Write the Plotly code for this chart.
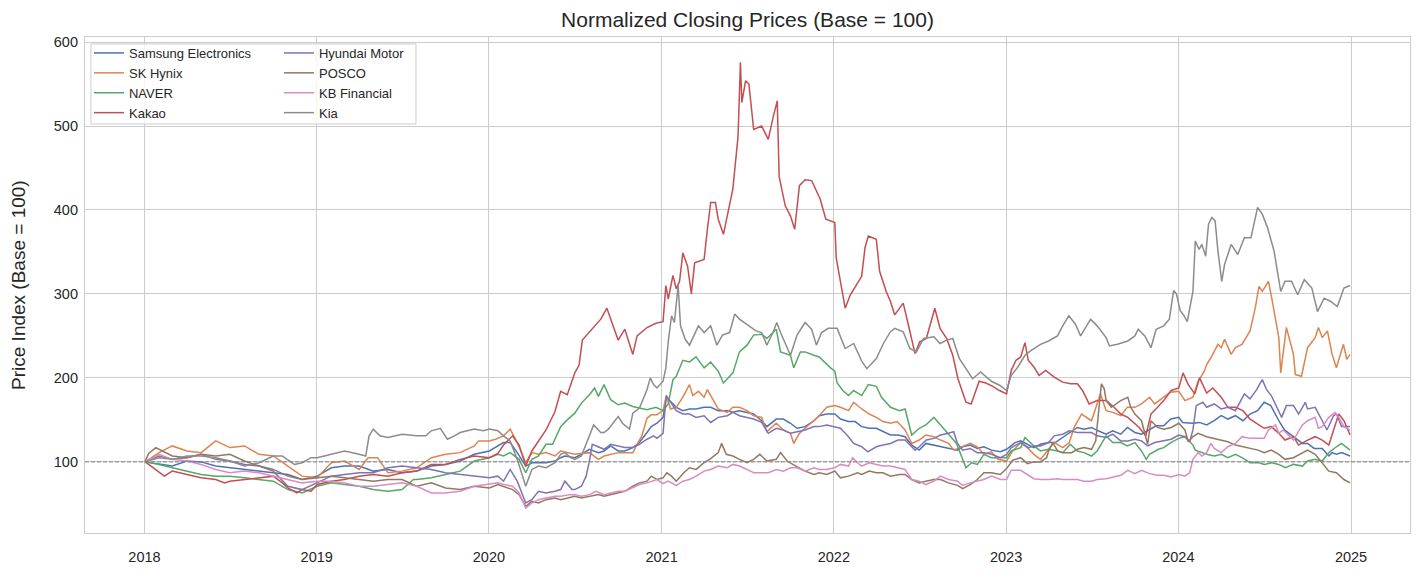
import plotly.graph_objects as go

TITLE = "Normalized Closing Prices (Base = 100)"
Y_TITLE = "Price Index (Base = 100)"
BASE = 100
YEAR_TICKS = ["2018-01-01", "2019-01-01", "2020-01-01", "2021-01-01", "2022-01-01", "2023-01-01", "2024-01-01", "2025-01-01"]
YEAR_LABELS = ["2018", "2019", "2020", "2021", "2022", "2023", "2024", "2025"]

samsung = [
    ("2018-01-02", 100), ("2018-02-01", 97), ("2018-03-01", 95), ("2018-04-01", 101), ("2018-05-01", 100), ("2018-06-01", 95),
    ("2018-07-01", 93), ("2018-08-01", 91), ("2018-09-01", 89), ("2018-10-01", 87), ("2018-11-01", 85), ("2018-12-01", 79),
    ("2019-01-02", 83), ("2019-02-01", 93), ("2019-03-01", 95), ("2019-04-01", 95), ("2019-05-01", 89), ("2019-06-01", 91),
    ("2019-07-01", 87), ("2019-08-01", 89), ("2019-09-01", 95), ("2019-10-01", 97), ("2019-11-01", 101), ("2019-12-01", 109),
    ("2020-01-02", 113), ("2020-01-20", 119), ("2020-02-01", 123), ("2020-02-15", 123), ("2020-03-01", 111), ("2020-03-19", 95),
    ("2020-04-01", 99), ("2020-05-01", 99), ("2020-05-20", 101), ("2020-06-01", 105), ("2020-06-10", 107), ("2020-07-01", 105),
    ("2020-07-15", 109), ("2020-08-01", 115), ("2020-08-20", 111), ("2020-09-01", 113), ("2020-09-15", 119), ("2020-10-01", 113),
    ("2020-10-15", 113), ("2020-11-01", 117), ("2020-11-15", 123), ("2020-12-01", 135), ("2020-12-10", 142), ("2020-12-22", 146),
    ("2021-01-04", 153), ("2021-01-11", 177), ("2021-01-18", 173), ("2021-02-01", 165), ("2021-02-15", 161), ("2021-03-01", 163),
    ("2021-03-15", 163), ("2021-04-01", 165), ("2021-04-15", 165), ("2021-05-01", 161), ("2021-05-20", 161), ("2021-06-01", 159),
    ("2021-06-15", 161), ("2021-07-01", 159), ("2021-07-15", 157), ("2021-08-01", 149), ("2021-08-12", 142), ("2021-09-01", 151),
    ("2021-09-16", 151), ("2021-10-01", 146), ("2021-10-15", 140), ("2021-11-01", 142), ("2021-11-20", 149), ("2021-12-01", 155),
    ("2021-12-17", 157), ("2022-01-03", 157), ("2022-01-15", 151), ("2022-02-01", 148), ("2022-02-15", 148), ("2022-03-01", 142),
    ("2022-03-17", 140), ("2022-04-01", 140), ("2022-04-15", 136), ("2022-05-01", 132), ("2022-05-17", 132), ("2022-06-01", 130),
    ("2022-06-15", 120), ("2022-07-01", 114), ("2022-07-15", 122), ("2022-08-01", 120), ("2022-08-15", 118), ("2022-09-01", 116),
    ("2022-09-20", 114), ("2022-10-01", 118), ("2022-10-17", 120), ("2022-11-01", 116), ("2022-11-15", 118), ("2022-12-01", 114),
    ("2022-12-20", 112), ("2023-01-02", 115), ("2023-01-20", 123), ("2023-02-01", 125), ("2023-02-15", 121), ("2023-03-01", 117),
    ("2023-03-15", 121), ("2023-04-01", 123), ("2023-04-15", 123), ("2023-05-01", 129), ("2023-05-17", 135), ("2023-06-01", 141),
    ("2023-06-15", 139), ("2023-07-01", 141), ("2023-07-15", 137), ("2023-08-01", 133), ("2023-08-15", 137), ("2023-09-01", 133),
    ("2023-09-15", 141), ("2023-10-01", 135), ("2023-10-15", 133), ("2023-11-01", 139), ("2023-11-15", 143), ("2023-12-01", 143),
    ("2023-12-16", 151), ("2024-01-02", 153), ("2024-01-10", 147), ("2024-02-01", 146), ("2024-02-15", 147), ("2024-03-01", 144),
    ("2024-03-17", 149), ("2024-04-01", 155), ("2024-04-15", 151), ("2024-05-01", 155), ("2024-05-17", 149), ("2024-06-01", 157),
    ("2024-06-17", 161), ("2024-07-01", 171), ("2024-07-15", 167), ("2024-08-01", 149), ("2024-08-13", 138), ("2024-09-01", 130),
    ("2024-09-20", 122), ("2024-10-01", 122), ("2024-10-15", 116), ("2024-11-01", 116), ("2024-11-15", 107), ("2024-11-22", 111),
    ("2024-12-01", 109), ("2024-12-12", 111), ("2024-12-30", 107),
]

sk_hynix = [
    ("2018-01-02", 100), ("2018-02-01", 111), ("2018-03-01", 119), ("2018-04-01", 113), ("2018-05-01", 111), ("2018-06-01", 125),
    ("2018-07-01", 117), ("2018-08-01", 119), ("2018-09-01", 109), ("2018-10-01", 107), ("2018-11-01", 95), ("2018-12-01", 83),
    ("2019-01-02", 81), ("2019-02-01", 99), ("2019-03-01", 101), ("2019-04-01", 91), ("2019-04-20", 105), ("2019-05-10", 105),
    ("2019-06-01", 87), ("2019-07-01", 89), ("2019-08-01", 93), ("2019-09-01", 105), ("2019-10-01", 109), ("2019-11-01", 111),
    ("2019-12-01", 119), ("2019-12-10", 125), ("2020-01-02", 125), ("2020-01-15", 127), ("2020-02-01", 131), ("2020-02-15", 139),
    ("2020-03-01", 123), ("2020-03-19", 99), ("2020-04-01", 111), ("2020-04-15", 109), ("2020-05-01", 111), ("2020-05-20", 107),
    ("2020-06-01", 113), ("2020-06-20", 111), ("2020-07-01", 109), ("2020-08-01", 111), ("2020-08-20", 103), ("2020-09-01", 107),
    ("2020-10-01", 111), ("2020-10-15", 111), ("2020-11-01", 111), ("2020-11-10", 121), ("2020-11-20", 131), ("2020-12-01", 152),
    ("2020-12-10", 156), ("2020-12-22", 156), ("2021-01-04", 161), ("2021-01-11", 179), ("2021-01-20", 163), ("2021-02-01", 165),
    ("2021-02-15", 177), ("2021-03-01", 192), ("2021-03-08", 179), ("2021-03-20", 184), ("2021-04-01", 177), ("2021-04-08", 186),
    ("2021-04-20", 173), ("2021-05-01", 163), ("2021-05-20", 159), ("2021-06-01", 165), ("2021-06-15", 165), ("2021-07-01", 161),
    ("2021-07-15", 155), ("2021-08-01", 153), ("2021-08-12", 136), ("2021-09-01", 146), ("2021-09-16", 138), ("2021-10-01", 134),
    ("2021-10-08", 122), ("2021-10-20", 134), ("2021-11-01", 140), ("2021-11-20", 149), ("2021-12-01", 155), ("2021-12-17", 165),
    ("2022-01-03", 167), ("2022-01-15", 165), ("2022-02-01", 161), ("2022-02-12", 171), ("2022-03-01", 163), ("2022-03-17", 157),
    ("2022-04-01", 153), ("2022-04-15", 148), ("2022-05-01", 146), ("2022-05-15", 148), ("2022-06-01", 138), ("2022-06-15", 122),
    ("2022-07-01", 126), ("2022-07-15", 132), ("2022-08-01", 130), ("2022-08-15", 126), ("2022-09-01", 122), ("2022-09-12", 114),
    ("2022-10-01", 118), ("2022-10-17", 122), ("2022-11-01", 118), ("2022-11-15", 109), ("2022-12-01", 112), ("2022-12-15", 103),
    ("2023-01-02", 101), ("2023-01-15", 113), ("2023-02-01", 123), ("2023-02-15", 117), ("2023-03-01", 109), ("2023-03-15", 103),
    ("2023-04-01", 115), ("2023-04-13", 123), ("2023-05-01", 117), ("2023-05-15", 123), ("2023-05-25", 141), ("2023-06-10", 157),
    ("2023-07-01", 149), ("2023-07-13", 169), ("2023-07-20", 181), ("2023-08-01", 161), ("2023-08-15", 159), ("2023-09-01", 155),
    ("2023-09-15", 165), ("2023-10-01", 165), ("2023-10-15", 169), ("2023-11-01", 177), ("2023-11-12", 169), ("2023-12-01", 177),
    ("2023-12-15", 183), ("2024-01-02", 184), ("2024-01-15", 173), ("2024-02-01", 177), ("2024-02-12", 196), ("2024-02-25", 208),
    ("2024-03-01", 216), ("2024-03-10", 224), ("2024-03-25", 240), ("2024-04-01", 236), ("2024-04-08", 246), ("2024-04-22", 228),
    ("2024-05-01", 236), ("2024-05-15", 240), ("2024-06-01", 256), ("2024-06-12", 283), ("2024-06-20", 309), ("2024-06-27", 303),
    ("2024-07-10", 315), ("2024-07-17", 295), ("2024-07-25", 271), ("2024-08-01", 248), ("2024-08-05", 206), ("2024-08-17", 260),
    ("2024-09-01", 228), ("2024-09-05", 204), ("2024-09-18", 202), ("2024-10-01", 236), ("2024-10-17", 248), ("2024-10-24", 260),
    ("2024-11-01", 248), ("2024-11-12", 256), ("2024-11-22", 228), ("2024-12-01", 212), ("2024-12-16", 240), ("2024-12-23", 222),
    ("2024-12-30", 228),
]

naver = [
    ("2018-01-02", 100), ("2018-02-01", 97), ("2018-03-01", 93), ("2018-04-01", 89), ("2018-05-01", 85), ("2018-06-01", 83),
    ("2018-07-01", 83), ("2018-08-01", 81), ("2018-09-01", 79), ("2018-10-01", 77), ("2018-11-01", 67), ("2018-12-01", 63),
    ("2019-01-02", 71), ("2019-02-01", 75), ("2019-03-01", 73), ("2019-04-01", 71), ("2019-05-01", 67), ("2019-06-01", 65),
    ("2019-07-01", 67), ("2019-07-25", 79), ("2019-08-01", 79), ("2019-09-01", 81), ("2019-10-01", 85), ("2019-11-01", 89),
    ("2019-12-01", 101), ("2020-01-02", 105), ("2020-01-20", 109), ("2020-02-01", 107), ("2020-02-15", 111), ("2020-03-05", 103),
    ("2020-03-19", 87), ("2020-04-01", 103), ("2020-04-15", 107), ("2020-05-01", 121), ("2020-05-15", 121), ("2020-06-01", 142),
    ("2020-06-15", 150), ("2020-07-01", 158), ("2020-07-15", 170), ("2020-08-01", 180), ("2020-08-12", 188), ("2020-08-20", 178),
    ("2020-09-01", 192), ("2020-09-15", 174), ("2020-10-01", 168), ("2020-10-15", 170), ("2020-11-01", 166), ("2020-11-15", 164),
    ("2020-12-01", 162), ("2020-12-20", 165), ("2021-01-04", 161), ("2021-01-15", 169), ("2021-01-25", 198), ("2021-02-01", 202),
    ("2021-02-15", 221), ("2021-03-01", 219), ("2021-03-15", 225), ("2021-04-01", 212), ("2021-04-15", 219), ("2021-05-01", 208),
    ("2021-05-12", 194), ("2021-06-01", 206), ("2021-06-15", 231), ("2021-07-01", 239), ("2021-07-15", 251), ("2021-08-01", 252),
    ("2021-08-12", 247), ("2021-09-01", 258), ("2021-09-10", 231), ("2021-10-01", 227), ("2021-10-08", 212), ("2021-10-22", 231),
    ("2021-11-01", 231), ("2021-11-20", 227), ("2021-12-01", 225), ("2021-12-25", 212), ("2022-01-03", 208), ("2022-01-08", 194),
    ("2022-01-20", 185), ("2022-02-01", 179), ("2022-02-12", 185), ("2022-03-01", 179), ("2022-03-15", 192), ("2022-04-01", 190),
    ("2022-04-12", 177), ("2022-05-01", 165), ("2022-05-20", 161), ("2022-06-01", 163), ("2022-06-15", 132), ("2022-07-01", 140),
    ("2022-07-15", 144), ("2022-08-01", 153), ("2022-08-12", 146), ("2022-09-01", 134), ("2022-09-18", 122), ("2022-10-08", 93),
    ("2022-10-20", 99), ("2022-11-01", 97), ("2022-11-15", 109), ("2022-12-01", 105), ("2022-12-20", 105), ("2023-01-02", 105),
    ("2023-01-12", 113), ("2023-02-01", 117), ("2023-02-10", 129), ("2023-03-01", 119), ("2023-03-15", 113), ("2023-04-01", 115),
    ("2023-04-20", 113), ("2023-05-01", 111), ("2023-05-17", 121), ("2023-06-01", 113), ("2023-06-15", 111), ("2023-07-01", 107),
    ("2023-07-13", 113), ("2023-08-01", 131), ("2023-08-15", 123), ("2023-09-01", 123), ("2023-09-15", 119), ("2023-10-01", 123),
    ("2023-10-15", 113), ("2023-10-25", 103), ("2023-11-01", 109), ("2023-11-20", 115), ("2023-12-01", 117), ("2023-12-16", 123),
    ("2024-01-02", 128), ("2024-01-15", 130), ("2024-02-01", 120), ("2024-02-06", 114), ("2024-03-01", 109), ("2024-03-17", 107),
    ("2024-04-01", 109), ("2024-04-15", 105), ("2024-05-01", 109), ("2024-05-15", 105), ("2024-06-01", 99), ("2024-06-20", 99),
    ("2024-07-01", 97), ("2024-07-17", 99), ("2024-08-01", 97), ("2024-08-15", 93), ("2024-09-01", 97), ("2024-09-20", 95),
    ("2024-10-01", 101), ("2024-10-17", 103), ("2024-11-01", 101), ("2024-11-15", 111), ("2024-12-01", 118), ("2024-12-12", 122),
    ("2024-12-30", 114),
]

kakao = [
    ("2018-01-02", 100), ("2018-01-15", 95), ("2018-02-12", 83), ("2018-03-01", 89), ("2018-04-01", 85), ("2018-05-01", 81),
    ("2018-06-01", 79), ("2018-06-20", 75), ("2018-07-01", 77), ("2018-08-01", 79), ("2018-09-01", 81), ("2018-10-01", 83),
    ("2018-10-20", 75), ("2018-11-01", 69), ("2018-11-20", 63), ("2018-12-01", 67), ("2018-12-20", 65), ("2019-01-02", 73),
    ("2019-02-01", 77), ("2019-03-01", 79), ("2019-04-01", 83), ("2019-05-01", 85), ("2019-06-01", 83), ("2019-07-01", 87),
    ("2019-08-01", 89), ("2019-09-01", 97), ("2019-10-01", 97), ("2019-11-01", 103), ("2019-12-01", 107), ("2020-01-02", 105),
    ("2020-01-20", 110), ("2020-02-01", 120), ("2020-02-20", 131), ("2020-03-05", 120), ("2020-03-19", 95), ("2020-04-01", 113),
    ("2020-05-01", 138), ("2020-05-20", 160), ("2020-06-01", 184), ("2020-06-15", 180), ("2020-07-01", 206), ("2020-07-10", 215),
    ("2020-07-17", 245), ("2020-08-01", 255), ("2020-08-10", 260), ("2020-08-25", 270), ("2020-09-07", 283), ("2020-09-20", 262),
    ("2020-10-01", 245), ("2020-10-15", 258), ("2020-11-01", 228), ("2020-11-10", 250), ("2020-12-01", 260), ("2020-12-20", 265),
    ("2021-01-04", 267), ("2021-01-10", 310), ("2021-01-15", 294), ("2021-01-25", 322), ("2021-02-01", 306), ("2021-02-08", 315),
    ("2021-02-15", 349), ("2021-02-25", 333), ("2021-03-05", 300), ("2021-03-12", 337), ("2021-04-01", 341), ("2021-04-08", 377),
    ("2021-04-15", 409), ("2021-04-25", 409), ("2021-05-01", 389), ("2021-05-12", 371), ("2021-05-22", 397), ("2021-06-01", 425),
    ("2021-06-12", 488), ("2021-06-17", 576), ("2021-06-20", 528), ("2021-06-28", 554), ("2021-07-05", 550), ("2021-07-15", 496),
    ("2021-08-01", 500), ("2021-08-15", 484), ("2021-08-26", 512), ("2021-09-03", 530), ("2021-09-07", 440), ("2021-09-20", 405),
    ("2021-10-01", 393), ("2021-10-10", 377), ("2021-10-20", 429), ("2021-11-01", 436), ("2021-11-15", 435), ("2021-12-03", 413),
    ("2021-12-15", 389), ("2022-01-03", 385), ("2022-01-06", 343), ("2022-01-15", 315), ("2022-01-25", 283), ("2022-02-05", 299),
    ("2022-02-19", 311), ("2022-03-01", 321), ("2022-03-08", 355), ("2022-03-15", 369), ("2022-04-01", 365), ("2022-04-08", 327),
    ("2022-04-22", 303), ("2022-05-01", 291), ("2022-05-10", 275), ("2022-05-28", 289), ("2022-06-08", 263), ("2022-06-22", 229),
    ("2022-07-02", 243), ("2022-07-16", 247), ("2022-08-03", 283), ("2022-08-14", 259), ("2022-08-28", 247), ("2022-09-10", 227),
    ("2022-09-21", 199), ("2022-10-08", 171), ("2022-10-19", 169), ("2022-11-05", 196), ("2022-11-19", 194), ("2022-12-04", 190),
    ("2022-12-18", 185), ("2023-01-02", 181), ("2023-01-12", 209), ("2023-01-22", 221), ("2023-02-01", 225), ("2023-02-10", 242),
    ("2023-02-17", 221), ("2023-03-01", 213), ("2023-03-12", 203), ("2023-03-26", 209), ("2023-04-13", 201), ("2023-05-01", 195),
    ("2023-05-18", 193), ("2023-06-01", 193), ("2023-06-12", 185), ("2023-06-26", 169), ("2023-07-13", 173), ("2023-08-01", 173),
    ("2023-08-18", 165), ("2023-09-01", 157), ("2023-09-16", 153), ("2023-10-01", 145), ("2023-10-10", 141), ("2023-10-24", 131),
    ("2023-11-04", 157), ("2023-11-18", 165), ("2023-12-01", 173), ("2023-12-17", 185), ("2024-01-02", 188), ("2024-01-11", 206),
    ("2024-01-22", 192), ("2024-02-05", 181), ("2024-02-15", 200), ("2024-03-01", 182), ("2024-03-14", 188), ("2024-04-01", 177),
    ("2024-04-15", 165), ("2024-05-01", 165), ("2024-05-17", 161), ("2024-06-01", 151), ("2024-06-18", 145), ("2024-07-01", 140),
    ("2024-07-16", 142), ("2024-08-01", 134), ("2024-08-14", 126), ("2024-09-01", 130), ("2024-09-12", 120), ("2024-10-01", 126),
    ("2024-10-17", 130), ("2024-11-01", 126), ("2024-11-15", 120), ("2024-11-25", 138), ("2024-12-06", 157), ("2024-12-17", 149),
    ("2024-12-30", 132),
]

hyundai = [
    ("2018-01-02", 100), ("2018-02-01", 107), ("2018-03-01", 103), ("2018-04-01", 105), ("2018-05-01", 109), ("2018-06-01", 103),
    ("2018-07-01", 101), ("2018-08-01", 97), ("2018-09-01", 95), ("2018-10-01", 89), ("2018-10-25", 75), ("2018-11-01", 71),
    ("2018-12-01", 67), ("2019-01-02", 75), ("2019-02-01", 83), ("2019-03-01", 85), ("2019-04-01", 87), ("2019-05-01", 87),
    ("2019-06-01", 93), ("2019-07-01", 95), ("2019-08-01", 93), ("2019-09-01", 91), ("2019-10-01", 87), ("2019-11-01", 85),
    ("2019-12-01", 83), ("2020-01-02", 81), ("2020-01-20", 83), ("2020-02-01", 77), ("2020-02-15", 91), ("2020-03-01", 77),
    ("2020-03-19", 51), ("2020-04-01", 55), ("2020-04-15", 65), ("2020-05-01", 63), ("2020-05-20", 65), ("2020-06-01", 67),
    ("2020-06-10", 77), ("2020-06-25", 67), ("2020-07-01", 67), ("2020-07-15", 71), ("2020-07-25", 83), ("2020-08-01", 101),
    ("2020-08-07", 121), ("2020-09-01", 115), ("2020-09-15", 121), ("2020-10-01", 119), ("2020-10-15", 117), ("2020-11-01", 117),
    ("2020-11-15", 121), ("2020-12-01", 127), ("2020-12-15", 131), ("2020-12-22", 128), ("2021-01-04", 134), ("2021-01-08", 161),
    ("2021-01-11", 179), ("2021-01-18", 173), ("2021-02-01", 161), ("2021-02-15", 157), ("2021-03-01", 157), ("2021-03-15", 153),
    ("2021-04-01", 155), ("2021-04-15", 147), ("2021-05-01", 153), ("2021-05-20", 155), ("2021-06-01", 159), ("2021-06-15", 155),
    ("2021-07-01", 153), ("2021-07-15", 151), ("2021-08-01", 147), ("2021-08-15", 134), ("2021-09-01", 140), ("2021-09-16", 138),
    ("2021-10-01", 134), ("2021-10-15", 136), ("2021-11-01", 138), ("2021-11-20", 142), ("2021-12-01", 142), ("2021-12-17", 144),
    ("2022-01-03", 142), ("2022-01-15", 140), ("2022-01-25", 134), ("2022-02-01", 130), ("2022-02-12", 122), ("2022-03-01", 118),
    ("2022-03-14", 112), ("2022-04-01", 118), ("2022-04-15", 120), ("2022-05-01", 122), ("2022-05-17", 126), ("2022-06-01", 126),
    ("2022-06-15", 118), ("2022-06-22", 114), ("2022-07-01", 118), ("2022-07-16", 126), ("2022-08-01", 128), ("2022-08-15", 132),
    ("2022-09-01", 134), ("2022-09-12", 136), ("2022-09-20", 122), ("2022-10-01", 114), ("2022-10-17", 116), ("2022-11-01", 111),
    ("2022-11-15", 111), ("2022-12-01", 109), ("2022-12-20", 105), ("2023-01-02", 109), ("2023-01-12", 117), ("2023-02-01", 123),
    ("2023-02-17", 117), ("2023-03-01", 119), ("2023-03-15", 119), ("2023-04-01", 123), ("2023-04-13", 131), ("2023-05-01", 133),
    ("2023-05-15", 137), ("2023-06-01", 135), ("2023-06-15", 135), ("2023-07-01", 135), ("2023-07-13", 131), ("2023-08-01", 129),
    ("2023-08-15", 133), ("2023-09-01", 125), ("2023-09-16", 125), ("2023-10-01", 127), ("2023-10-15", 125), ("2023-10-28", 119),
    ("2023-11-12", 123), ("2023-12-01", 125), ("2023-12-17", 127), ("2024-01-02", 132), ("2024-01-15", 130), ("2024-01-25", 124),
    ("2024-02-01", 138), ("2024-02-08", 167), ("2024-02-22", 171), ("2024-03-01", 165), ("2024-03-17", 169), ("2024-04-01", 163),
    ("2024-04-15", 165), ("2024-05-01", 161), ("2024-05-20", 181), ("2024-06-01", 175), ("2024-06-15", 186), ("2024-06-27", 198),
    ("2024-07-06", 186), ("2024-07-16", 179), ("2024-08-01", 161), ("2024-08-07", 153), ("2024-08-17", 167), ("2024-09-01", 167),
    ("2024-09-12", 157), ("2024-09-26", 171), ("2024-10-01", 163), ("2024-10-17", 165), ("2024-11-01", 149), ("2024-11-11", 138),
    ("2024-11-25", 155), ("2024-12-01", 157), ("2024-12-12", 142), ("2024-12-30", 142),
]

posco = [
    ("2018-01-02", 100), ("2018-01-10", 110), ("2018-01-25", 117), ("2018-02-10", 112), ("2018-03-01", 107), ("2018-04-01", 105),
    ("2018-05-01", 109), ("2018-06-01", 107), ("2018-07-01", 109), ("2018-08-01", 101), ("2018-09-01", 95), ("2018-10-01", 91),
    ("2018-11-01", 83), ("2018-12-01", 79), ("2019-01-02", 81), ("2019-02-01", 83), ("2019-03-01", 81), ("2019-04-01", 79),
    ("2019-05-01", 77), ("2019-06-01", 79), ("2019-07-01", 79), ("2019-08-01", 71), ("2019-09-01", 75), ("2019-10-01", 69),
    ("2019-11-01", 67), ("2019-12-01", 71), ("2020-01-02", 69), ("2020-01-20", 73), ("2020-02-01", 71), ("2020-02-20", 67),
    ("2020-03-05", 61), ("2020-03-19", 47), ("2020-04-01", 53), ("2020-04-15", 51), ("2020-05-01", 55), ("2020-05-20", 57),
    ("2020-06-01", 55), ("2020-07-01", 59), ("2020-07-15", 57), ("2020-08-01", 59), ("2020-08-20", 61), ("2020-09-01", 59),
    ("2020-10-01", 63), ("2020-10-15", 65), ("2020-11-01", 71), ("2020-11-15", 75), ("2020-12-01", 77), ("2020-12-10", 83),
    ("2020-12-22", 79), ("2021-01-04", 81), ("2021-01-12", 87), ("2021-01-22", 83), ("2021-02-01", 77), ("2021-02-17", 87),
    ("2021-03-01", 93), ("2021-03-15", 91), ("2021-04-01", 99), ("2021-04-13", 103), ("2021-05-01", 111), ("2021-05-08", 122),
    ("2021-05-18", 109), ("2021-06-01", 107), ("2021-06-15", 103), ("2021-07-01", 99), ("2021-07-15", 103), ("2021-07-28", 109),
    ("2021-08-12", 101), ("2021-09-01", 103), ("2021-09-10", 111), ("2021-09-24", 101), ("2021-10-06", 97), ("2021-10-20", 93),
    ("2021-11-01", 89), ("2021-11-20", 85), ("2021-12-01", 87), ("2021-12-17", 85), ("2022-01-03", 89), ("2022-01-15", 81),
    ("2022-02-01", 83), ("2022-02-20", 87), ("2022-03-01", 85), ("2022-03-17", 89), ("2022-04-01", 87), ("2022-04-15", 87),
    ("2022-05-01", 83), ("2022-05-20", 85), ("2022-06-01", 85), ("2022-06-15", 79), ("2022-07-01", 75), ("2022-07-15", 77),
    ("2022-08-01", 79), ("2022-08-15", 79), ("2022-09-01", 75), ("2022-09-20", 72), ("2022-10-01", 68), ("2022-10-17", 73),
    ("2022-11-01", 79), ("2022-11-15", 87), ("2022-12-01", 87), ("2022-12-20", 85), ("2023-01-02", 92), ("2023-01-15", 102),
    ("2023-02-01", 105), ("2023-02-15", 98), ("2023-03-01", 100), ("2023-03-15", 100), ("2023-03-28", 105), ("2023-04-01", 113),
    ("2023-04-10", 123), ("2023-04-20", 113), ("2023-05-01", 111), ("2023-05-20", 111), ("2023-06-01", 115), ("2023-06-15", 117),
    ("2023-07-01", 115), ("2023-07-10", 125), ("2023-07-22", 193), ("2023-07-28", 187), ("2023-08-01", 173), ("2023-08-12", 165),
    ("2023-08-22", 169), ("2023-09-01", 173), ("2023-09-16", 177), ("2023-09-22", 165), ("2023-10-01", 157), ("2023-10-15", 149),
    ("2023-10-28", 121), ("2023-11-04", 149), ("2023-11-18", 141), ("2023-12-01", 139), ("2023-12-17", 141), ("2023-12-31", 145),
    ("2024-01-02", 146), ("2024-01-15", 138), ("2024-01-22", 124), ("2024-02-01", 130), ("2024-02-12", 134), ("2024-03-01", 130),
    ("2024-03-17", 128), ("2024-04-01", 126), ("2024-04-15", 124), ("2024-05-01", 120), ("2024-05-17", 118), ("2024-06-01", 116),
    ("2024-06-18", 114), ("2024-07-01", 111), ("2024-07-16", 114), ("2024-08-01", 109), ("2024-08-14", 103), ("2024-09-01", 105),
    ("2024-09-20", 111), ("2024-10-01", 114), ("2024-10-17", 109), ("2024-11-01", 99), ("2024-11-15", 89), ("2024-12-01", 87),
    ("2024-12-17", 79), ("2024-12-30", 75),
]

kb_financial = [
    ("2018-01-02", 100), ("2018-02-01", 109), ("2018-03-01", 103), ("2018-04-01", 101), ("2018-05-01", 97), ("2018-06-01", 91),
    ("2018-07-01", 87), ("2018-08-01", 89), ("2018-09-01", 87), ("2018-10-01", 83), ("2018-11-01", 79), ("2018-12-01", 75),
    ("2019-01-02", 77), ("2019-02-01", 77), ("2019-03-01", 75), ("2019-04-01", 71), ("2019-05-01", 71), ("2019-06-01", 73),
    ("2019-07-01", 75), ("2019-08-01", 71), ("2019-09-01", 63), ("2019-10-01", 63), ("2019-11-01", 65), ("2019-12-01", 71),
    ("2020-01-02", 73), ("2020-01-20", 75), ("2020-02-01", 73), ("2020-02-20", 71), ("2020-03-05", 63), ("2020-03-19", 45),
    ("2020-04-01", 51), ("2020-04-15", 55), ("2020-05-01", 57), ("2020-05-20", 59), ("2020-06-01", 59), ("2020-06-20", 61),
    ("2020-07-01", 61), ("2020-07-15", 59), ("2020-08-01", 61), ("2020-08-15", 65), ("2020-09-01", 61), ("2020-09-15", 63),
    ("2020-10-01", 65), ("2020-10-15", 65), ("2020-11-01", 69), ("2020-11-15", 73), ("2020-12-01", 75), ("2020-12-10", 77),
    ("2020-12-22", 79), ("2021-01-04", 74), ("2021-01-15", 77), ("2021-02-01", 72), ("2021-02-15", 77), ("2021-03-01", 79),
    ("2021-03-15", 83), ("2021-04-01", 89), ("2021-04-15", 91), ("2021-05-01", 95), ("2021-05-20", 93), ("2021-06-01", 97),
    ("2021-06-15", 95), ("2021-07-01", 91), ("2021-07-15", 87), ("2021-08-01", 87), ("2021-08-15", 87), ("2021-09-01", 91),
    ("2021-09-16", 89), ("2021-10-01", 93), ("2021-10-15", 93), ("2021-11-01", 89), ("2021-11-20", 93), ("2021-12-01", 91),
    ("2021-12-17", 91), ("2022-01-03", 93), ("2022-01-15", 97), ("2022-02-01", 95), ("2022-02-10", 105), ("2022-02-20", 99),
    ("2022-03-01", 95), ("2022-03-17", 99), ("2022-04-01", 97), ("2022-04-15", 95), ("2022-05-01", 95), ("2022-05-17", 93),
    ("2022-06-01", 91), ("2022-06-15", 79), ("2022-07-01", 77), ("2022-07-15", 73), ("2022-08-01", 77), ("2022-08-15", 83),
    ("2022-09-01", 79), ("2022-09-20", 77), ("2022-10-01", 72), ("2022-10-17", 75), ("2022-11-01", 77), ("2022-11-15", 79),
    ("2022-12-01", 83), ("2022-12-20", 79), ("2023-01-02", 79), ("2023-01-12", 90), ("2023-02-01", 90), ("2023-02-17", 84),
    ("2023-03-01", 80), ("2023-03-15", 79), ("2023-04-01", 79), ("2023-04-20", 80), ("2023-05-01", 79), ("2023-06-01", 79),
    ("2023-06-15", 77), ("2023-07-01", 77), ("2023-07-13", 79), ("2023-08-01", 80), ("2023-08-15", 82), ("2023-09-01", 84),
    ("2023-09-16", 90), ("2023-10-01", 86), ("2023-10-15", 90), ("2023-11-01", 86), ("2023-11-18", 84), ("2023-12-01", 84),
    ("2023-12-17", 82), ("2023-12-31", 84), ("2024-01-02", 85), ("2024-01-15", 83), ("2024-01-25", 87), ("2024-02-01", 103),
    ("2024-02-12", 111), ("2024-02-20", 107), ("2024-03-01", 111), ("2024-03-10", 122), ("2024-03-17", 116), ("2024-04-01", 111),
    ("2024-04-15", 118), ("2024-05-01", 122), ("2024-05-15", 130), ("2024-06-01", 128), ("2024-06-18", 128), ("2024-07-01", 128),
    ("2024-07-10", 138), ("2024-07-25", 144), ("2024-08-01", 134), ("2024-08-10", 138), ("2024-09-01", 126), ("2024-09-20", 144),
    ("2024-10-01", 149), ("2024-10-17", 153), ("2024-10-24", 140), ("2024-11-01", 142), ("2024-11-15", 153), ("2024-11-28", 159),
    ("2024-12-06", 153), ("2024-12-17", 142), ("2024-12-30", 138),
]

kia = [
    ("2018-01-02", 100), ("2018-02-01", 105), ("2018-03-01", 103), ("2018-04-01", 107), ("2018-05-01", 107), ("2018-06-01", 105),
    ("2018-07-01", 101), ("2018-08-01", 95), ("2018-09-01", 99), ("2018-10-01", 107), ("2018-10-20", 107), ("2018-11-15", 97),
    ("2018-12-01", 99), ("2018-12-20", 105), ("2019-01-02", 105), ("2019-02-01", 109), ("2019-03-01", 113), ("2019-04-01", 109),
    ("2019-04-15", 107), ("2019-04-22", 131), ("2019-05-01", 139), ("2019-05-15", 131), ("2019-06-01", 129), ("2019-07-01", 133),
    ("2019-08-01", 131), ("2019-08-20", 131), ("2019-09-01", 137), ("2019-09-20", 140), ("2019-10-05", 127), ("2019-10-20", 131),
    ("2019-11-01", 135), ("2019-12-01", 139), ("2019-12-20", 137), ("2020-01-02", 139), ("2020-01-20", 137), ("2020-02-01", 131),
    ("2020-02-15", 125), ("2020-03-01", 103), ("2020-03-19", 71), ("2020-04-01", 91), ("2020-04-15", 95), ("2020-05-01", 93),
    ("2020-05-20", 99), ("2020-06-01", 109), ("2020-06-10", 111), ("2020-06-22", 105), ("2020-07-01", 103), ("2020-07-15", 107),
    ("2020-08-01", 131), ("2020-08-10", 144), ("2020-08-25", 135), ("2020-09-01", 135), ("2020-09-10", 139), ("2020-10-01", 154),
    ("2020-10-10", 146), ("2020-10-25", 139), ("2020-11-01", 158), ("2020-11-15", 164), ("2020-12-01", 186), ("2020-12-08", 200),
    ("2020-12-15", 192), ("2020-12-22", 188), ("2021-01-04", 196), ("2021-01-10", 212), ("2021-01-15", 243), ("2021-01-22", 274),
    ("2021-01-28", 266), ("2021-02-05", 310), ("2021-02-10", 262), ("2021-02-20", 246), ("2021-03-01", 239), ("2021-03-08", 247),
    ("2021-03-20", 262), ("2021-04-01", 254), ("2021-04-15", 262), ("2021-04-28", 239), ("2021-05-10", 251), ("2021-05-25", 254),
    ("2021-06-05", 276), ("2021-06-15", 270), ("2021-07-05", 262), ("2021-07-20", 256), ("2021-08-01", 254), ("2021-08-12", 239),
    ("2021-08-25", 254), ("2021-09-02", 266), ("2021-09-10", 254), ("2021-10-01", 227), ("2021-10-15", 251), ("2021-11-01", 266),
    ("2021-11-15", 258), ("2021-11-25", 239), ("2021-12-06", 254), ("2021-12-20", 259), ("2022-01-08", 259), ("2022-01-25", 235),
    ("2022-02-12", 241), ("2022-03-01", 220), ("2022-03-12", 211), ("2022-04-01", 223), ("2022-04-16", 241), ("2022-05-01", 255),
    ("2022-05-10", 259), ("2022-05-28", 255), ("2022-06-11", 235), ("2022-06-25", 231), ("2022-07-10", 247), ("2022-08-01", 249),
    ("2022-08-14", 241), ("2022-08-28", 245), ("2022-09-10", 247), ("2022-09-24", 223), ("2022-10-08", 211), ("2022-10-22", 199),
    ("2022-11-08", 207), ("2022-12-01", 196), ("2022-12-19", 191), ("2023-01-02", 185), ("2023-01-12", 203), ("2023-01-26", 213),
    ("2023-02-10", 227), ("2023-02-24", 233), ("2023-03-15", 240), ("2023-04-01", 244), ("2023-04-20", 250), ("2023-05-01", 262),
    ("2023-05-14", 274), ("2023-05-28", 264), ("2023-06-08", 250), ("2023-06-29", 270), ("2023-07-13", 262), ("2023-08-01", 248),
    ("2023-08-08", 238), ("2023-08-25", 240), ("2023-09-16", 244), ("2023-10-01", 250), ("2023-10-08", 258), ("2023-10-22", 250),
    ("2023-11-04", 236), ("2023-11-15", 258), ("2023-12-01", 262), ("2023-12-13", 270), ("2023-12-22", 304), ("2023-12-28", 300),
    ("2024-01-05", 280), ("2024-01-12", 275), ("2024-01-20", 267), ("2024-02-01", 303), ("2024-02-06", 363), ("2024-02-14", 353),
    ("2024-02-20", 359), ("2024-02-28", 345), ("2024-03-05", 383), ("2024-03-12", 391), ("2024-03-19", 387), ("2024-03-25", 351),
    ("2024-04-02", 315), ("2024-04-08", 335), ("2024-04-22", 359), ("2024-05-06", 347), ("2024-05-20", 367), ("2024-06-03", 367),
    ("2024-06-17", 403), ("2024-06-27", 395), ("2024-07-08", 379), ("2024-07-22", 351), ("2024-08-05", 303), ("2024-08-14", 315),
    ("2024-08-28", 315), ("2024-09-10", 299), ("2024-09-24", 317), ("2024-10-10", 307), ("2024-10-22", 279), ("2024-11-05", 295),
    ("2024-11-19", 291), ("2024-12-03", 285), ("2024-12-17", 307), ("2024-12-30", 310),
]

series_names = ["Samsung Electronics", "SK Hynix", "NAVER", "Kakao", "Hyundai Motor", "POSCO", "KB Financial", "Kia"]
series_data = [samsung, sk_hynix, naver, kakao, hyundai, posco, kb_financial, kia]
colors = ["#4C72B0", "#DD8452", "#55A868", "#C44E52", "#8172B3", "#937860", "#DA8BC3", "#8C8C8C"]

FONT = "Liberation Sans, Arial, sans-serif"
TEXT = "#262626"
GRID = "#cccccc"

# The page body adds an 8px offset; figure is sized so the plot area lands where the reference has it.
W, H = 1412, 572
M_L, M_R, M_T, M_B = 77, 10, 29, 47

fig = go.Figure()
for i, (name, data, col) in enumerate(zip(series_names, series_data, colors)):
    xs = [d for d, _ in data]
    ys = [v for _, v in data]
    fig.add_trace(go.Scatter(
        x=xs, y=ys, mode="lines", name=name,
        line=dict(color=col, width=1.5),
        legend="legend" if i < 4 else "legend2",
    ))

# reference line at base value
fig.add_hline(y=BASE, line=dict(color="#808080", width=1, dash="4px,2px"), layer="above")

# legend frame
fig.add_shape(type="rect", xref="paper", yref="paper",
              x0=0.0045, x1=0.2498, y0=0.8246, y1=0.986,
              line=dict(color=GRID, width=1), fillcolor="rgba(255,255,255,0.8)", layer="above")

legend_common = dict(bgcolor="rgba(0,0,0,0)", borderwidth=0, font=dict(family=FONT, size=13, color=TEXT),
                     xanchor="left", yanchor="top", tracegroupgap=0, itemwidth=30)

fig.update_layout(
    width=W, height=H,
    margin=dict(l=M_L, r=M_R, t=M_T, b=M_B, autoexpand=False),
    paper_bgcolor="white", plot_bgcolor="white",
    font=dict(family=FONT, color=TEXT, size=14),
    title=dict(text=TITLE, x=0.5, xref="paper", xanchor="center", y=1 - 12 / H, yref="container", yanchor="middle",
               font=dict(family=FONT, size=21, color=TEXT)),
    showlegend=True,
    legend=dict(x=0.003, y=0.998, **legend_common),
    legend2=dict(x=0.1464, y=0.998, **legend_common),
    xaxis=dict(
        type="date", range=["2017-08-28", "2025-05-06"],
        tickvals=YEAR_TICKS, ticktext=YEAR_LABELS,
        showgrid=True, gridcolor=GRID, gridwidth=1,
        showline=True, linecolor=GRID, linewidth=1.2, mirror=True,
        ticks="", zeroline=False, ticklabelstandoff=10,
        tickfont=dict(size=14.5, family=FONT, color=TEXT),
    ),
    yaxis=dict(
        range=[15.3, 606], tickvals=[100, 200, 300, 400, 500, 600],
        showgrid=True, gridcolor=GRID, gridwidth=1,
        showline=True, linecolor=GRID, linewidth=1.2, mirror=True,
        ticks="", zeroline=False, ticklabelstandoff=3,
        tickfont=dict(size=14.5, family=FONT, color=TEXT),
    ),
)

fig.add_annotation(text=Y_TITLE, xref="paper", yref="paper", x=-0.0506, y=0.5, textangle=-90,
                   showarrow=False, xanchor="center", yanchor="middle",
                   font=dict(family=FONT, size=19, color=TEXT))

fig.write_html("out.html")
